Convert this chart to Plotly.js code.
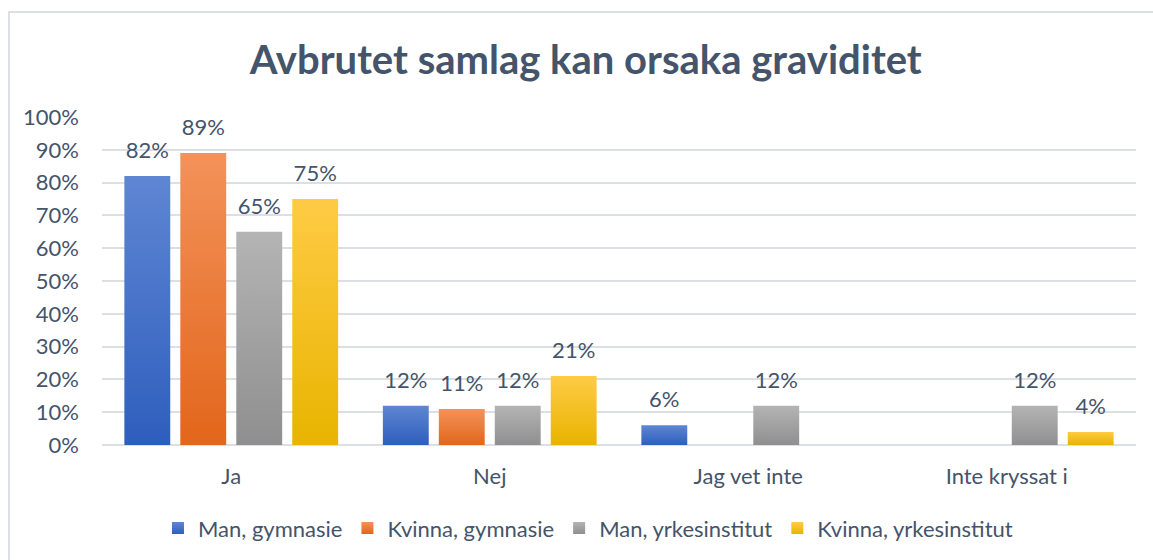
<!DOCTYPE html>
<html>
<head>
<meta charset="utf-8">
<script src="https://cdn.plot.ly/plotly-3.0.1.min.js"></script>
<style>
  html, body { margin: 0; padding: 0; background: #ffffff; }
  #frame { position: absolute; left: 8px; top: 11px; width: 1200px; height: 600px; border: 2px solid #DCE0E5; box-sizing: border-box; }
  #chart { position: absolute; left: 0; top: 0; width: 1153px; height: 560px; }
</style>
</head>
<body>
<div id="frame"></div>
<div id="chart"></div>
<script>
const categories = ["Ja", "Nej", "Jag vet inte", "Inte kryssat i"];
const seriesNames = ["Man, gymnasie", "Kvinna, gymnasie", "Man, yrkesinstitut", "Kvinna, yrkesinstitut"];
const manGymnasie = [82, 12, 6, null];
const kvinnaGymnasie = [89, 11, null, null];
const manYrkes = [65, 12, 12, 12];
const kvinnaYrkes = [75, 21, null, 4];
const yTickVals = [0, 10, 20, 30, 40, 50, 60, 70, 80, 90, 100];

const seriesValues = [manGymnasie, kvinnaGymnasie, manYrkes, kvinnaYrkes];
const baseColors = ["#4472C4", "#ED7D31", "#A5A5A5", "#FFC000"];
const gradTop = ["#5F86D3", "#F3925A", "#B4B4B4", "#FFCB45"];
const gradBottom = ["#2E5EBD", "#E2661B", "#8F8F8F", "#E8B400"];
const textColor = "#44546A";
const FONT = "Lato, 'Open Sans', sans-serif";

const traces = seriesValues.map((vals, i) => ({
  type: "bar",
  name: seriesNames[i],
  x: categories,
  y: vals,
  marker: { color: baseColors[i] },
  text: vals.map(v => v === null ? "" : v + "%"),
  texttemplate: "%{text}",
  textposition: "outside",
  cliponaxis: false,
  textfont: { family: FONT, size: 22, color: textColor },
  hoverinfo: "skip"
}));

const layout = {
  width: 1153,
  height: 560,
  paper_bgcolor: "rgba(0,0,0,0)",
  plot_bgcolor: "rgba(0,0,0,0)",
  margin: { l: 102, r: 17, t: 117, b: 114 },
  barmode: "group",
  bargap: 0.134,
  bargroupgap: 0.18,
  title: {
    text: "<b>Avbrutet samlag kan orsaka graviditet</b>",
    font: { family: FONT, size: 40, color: textColor },
    x: 0.508, xref: "container", xanchor: "center",
    y: 0.893, yref: "container", yanchor: "middle"
  },
  font: { family: FONT, color: textColor },
  xaxis: {
    type: "category",
    tickfont: { family: FONT, size: 22, color: textColor },
    showgrid: false,
    showline: false,
    ticks: "",
    ticklabelstandoff: 16,
    fixedrange: true
  },
  yaxis: {
    range: [0, 100],
    tickvals: yTickVals,
    ticktext: yTickVals.map(v => v + "%"),
    tickfont: { family: FONT, size: 22, color: textColor },
    gridcolor: "#DCE0E5",
    gridwidth: 2,
    zeroline: true,
    zerolinecolor: "#DCE0E5",
    zerolinewidth: 2,
    showline: false,
    ticks: "",
    ticklabelstandoff: 22,
    fixedrange: true
  },
  legend: {
    orientation: "h",
    x: 0.47, xanchor: "center",
    y: -0.25, yanchor: "middle",
    font: { family: FONT, size: 22, color: textColor },
    itemsizing: "constant",
    traceorder: "normal"
  },
  showlegend: true
};

function applyStyling(gd) {
  const svg = gd.querySelector("svg.main-svg");
  if (!svg) return;
  const NS = "http://www.w3.org/2000/svg";
  let defs = svg.querySelector("defs");
  if (!defs) { defs = document.createElementNS(NS, "defs"); svg.insertBefore(defs, svg.firstChild); }
  baseColors.forEach((c, i) => {
    const g = document.createElementNS(NS, "linearGradient");
    g.setAttribute("id", "barGrad" + i);
    g.setAttribute("x1", "0"); g.setAttribute("y1", "0");
    g.setAttribute("x2", "0"); g.setAttribute("y2", "1");
    const s1 = document.createElementNS(NS, "stop");
    s1.setAttribute("offset", "0"); s1.setAttribute("stop-color", gradTop[i]);
    const s2 = document.createElementNS(NS, "stop");
    s2.setAttribute("offset", "1"); s2.setAttribute("stop-color", gradBottom[i]);
    g.appendChild(s1); g.appendChild(s2);
    defs.appendChild(g);
  });
  gd.querySelectorAll(".barlayer .trace.bars").forEach((tr, i) => {
    tr.querySelectorAll(".point path").forEach(p => { p.style.fill = "url(#barGrad" + i + ")"; });
    tr.querySelectorAll("text.bartext").forEach(t => {
      const old = t.getAttribute("transform") || "";
      t.setAttribute("transform", "translate(0,-10) " + old);
    });
  });
  gd.querySelectorAll(".legend .traces").forEach((tr, i) => {
    tr.querySelectorAll(".legendpoints path").forEach(p => { p.style.fill = "url(#barGrad" + i + ")"; });
  });
}

Plotly.newPlot("chart", traces, layout, { staticPlot: true, displayModeBar: false })
  .then(gd => applyStyling(gd));
</script>
</body>
</html>
